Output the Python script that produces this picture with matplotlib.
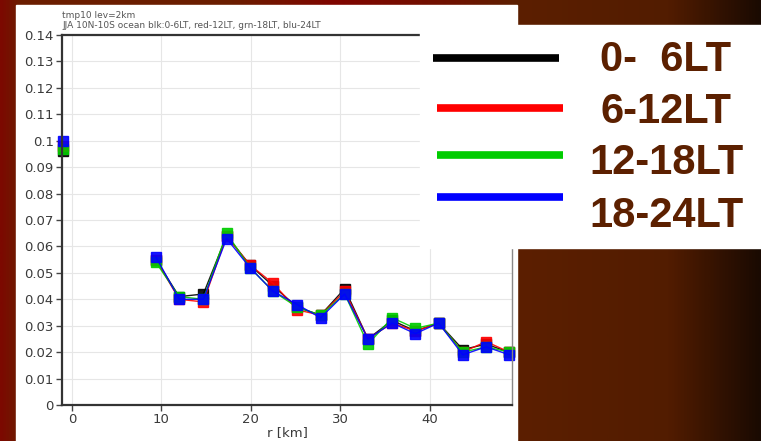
import numpy as np
import matplotlib
matplotlib.use("Agg")
import matplotlib.pyplot as plt
from matplotlib.patches import Rectangle
from matplotlib.lines import Line2D
from matplotlib.colors import LinearSegmentedColormap

# radius bins [km]; nan breaks the line between the first point and the rest
r_km = [-1.0, 4.2, 9.4, 12.0, 14.7, 17.3, 19.9, 22.5, 25.2, 27.8, 30.5,
        33.1, 35.8, 38.4, 41.0, 43.7, 46.3, 48.9]
lt_00_06 = [0.096, np.nan, 0.055, 0.041, 0.042, 0.064, 0.053, 0.045, 0.037, 0.034,
            0.044, 0.025, 0.032, 0.028, 0.031, 0.021, 0.023, 0.020]
lt_06_12 = [0.098, np.nan, 0.055, 0.040, 0.039, 0.064, 0.053, 0.046, 0.036, 0.034,
            0.043, 0.025, 0.031, 0.028, 0.031, 0.020, 0.024, 0.020]
lt_12_18 = [0.097, np.nan, 0.054, 0.041, 0.040, 0.065, 0.052, 0.043, 0.037, 0.034,
            0.042, 0.023, 0.033, 0.029, 0.031, 0.020, 0.022, 0.020]
lt_18_24 = [0.100, np.nan, 0.056, 0.040, 0.040, 0.063, 0.052, 0.043, 0.038, 0.033,
            0.042, 0.025, 0.031, 0.027, 0.031, 0.019, 0.022, 0.019]

series = [lt_00_06, lt_06_12, lt_12_18, lt_18_24]
labels = ["0-  6LT", "6-12LT", "12-18LT", "18-24LT"]
colors = ["#000000", "#ff0000", "#00cc00", "#0000ff"]

W, H = 761, 441
fig = plt.figure(figsize=(W / 100, H / 100), dpi=100)

# slide background (horizontal gradient)
bg = fig.add_axes([0, 0, 1, 1])
bg.set_axis_off()
bg.set_zorder(-2)
cmap = LinearSegmentedColormap.from_list("slide", [
    (0.0, "#7c0900"), (0.025, "#6c1d00"), (0.3, "#6a1e00"), (0.44, "#800500"),
    (0.6, "#6e1200"), (0.68, "#5c1f00"), (0.88, "#521c00"), (1.0, "#1a0a02")])
grad = np.linspace(0, 1, 512)[None, :]
bg.imshow(grad, aspect="auto", cmap=cmap, extent=[0, 1, 0, 1])
bg.set_xlim(0, 1)
bg.set_ylim(0, 1)

# white chart panel
fig.patches.append(Rectangle((16 / W, 0), (517 - 16) / W, (H - 5) / H,
                             transform=fig.transFigure, color="white", zorder=-1))

ax = fig.add_axes([62 / W, 1 - 405 / H, 450 / W, 370 / H])
ax.set_zorder(2)
for vals, c in zip(series, colors):
    ax.plot(r_km, vals, color=c, lw=1.0, marker="s", ms=6.5, mec=c, mfc=c,
            alpha=0.9, clip_on=False)

ax.set_xlim(-1.1, 49.2)
ax.set_ylim(0, 0.14)
ax.set_xticks([0, 10, 20, 30, 40])
ax.set_yticks(np.arange(0, 0.141, 0.01))
ax.set_yticklabels(["0", "0.01", "0.02", "0.03", "0.04", "0.05", "0.06", "0.07",
                    "0.08", "0.09", "0.1", "0.11", "0.12", "0.13", "0.14"])
ax.tick_params(labelsize=9.5, labelcolor="#3a3a3a", color="#444444", length=4, width=1, pad=2)
ax.grid(True, color="#e6e6e6", lw=0.8)
ax.set_axisbelow(True)
for side in ["left", "bottom", "top"]:
    ax.spines[side].set_linewidth(1.6)
    ax.spines[side].set_color("#333333")
ax.spines["right"].set_linewidth(1.0)
ax.spines["right"].set_color("#888888")
ax.set_xlabel("r [km]", fontsize=9.5, color="#3a3a3a", labelpad=0)

fig.text(62 / W, 1 - 15 / H, "tmp10 lev=2km", fontsize=6.5, color="#555555", va="center")
fig.text(62 / W, 1 - 25 / H, "JJA 10N-10S ocean blk:0-6LT, red-12LT, grn-18LT, blu-24LT",
         fontsize=6.5, color="#555555", va="center")

# legend box on the slide
fig.patches.append(Rectangle((420 / W, 1 - 248 / H), (W - 420) / W, 223 / H,
                             transform=fig.transFigure, color="white", zorder=3))
line_y = [58, 108, 155, 197]
line_x = [(433, 559), (437, 563), (437, 563), (437, 563)]
text_y = [60, 112, 163, 216]
for lab, c, ly, (x0, x1), ty in zip(labels, colors, line_y, line_x, text_y):
    fig.lines.append(Line2D([x0 / W, x1 / W], [1 - ly / H, 1 - ly / H], color=c, lw=5.5,
                            solid_capstyle="butt", transform=fig.transFigure, zorder=4))
    fig.text(666 / W, 1 - ty / H, lab, fontsize=30, fontweight="bold",
             family="Liberation Sans", color="#5c2000", ha="center", va="center", zorder=5)

fig.savefig("out.png", dpi=100)
